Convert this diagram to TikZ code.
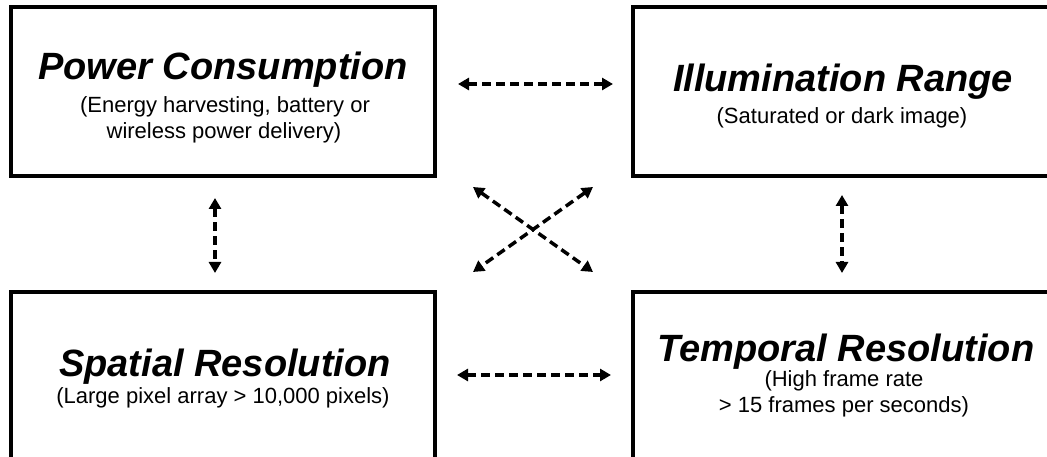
\documentclass[tikz,border=0pt]{standalone}
\usepackage{fontspec}
\setmainfont{Liberation Sans}
\usetikzlibrary{arrows.meta}

\tikzset{
  panel/.style={draw=black, line width=4pt, minimum width=424pt, minimum height=169pt, inner sep=0pt},
  heading/.style={anchor=base, inner sep=0pt, font=\fontsize{38}{44}\selectfont\bfseries\itshape},
  detail/.style={anchor=base, inner sep=0pt, font=\fontsize{22}{26}\selectfont},
  link/.style={line width=3.5pt, dash pattern=on 9pt off 5pt,
    {Triangle[length=11pt,width=12pt]}-{Triangle[length=11pt,width=12pt]}}
}

\begin{document}
\begin{tikzpicture}[x=1pt, y=1pt]
  \clip (0,0) rectangle (1047,457);
  \fill[white] (0,0) rectangle (1047,457);

  % the four design constraints
  \node[panel] (pc) at (223,365.5) {};
  \node[panel] (ir) at (845,365.5) {};
  \node[panel] (sr) at (223,80.5) {};
  \node[panel] (tr) at (845,80.5) {};

  % Power Consumption
  \node[heading] (pcT) at (223,377) {Power Consumption};
  \node[detail] (pcA) at (225,344) {(Energy harvesting, battery or};
  \node[detail] (pcB) at (224,318) {wireless power delivery)};

  % Illumination Range
  \node[heading] (irT) at (843,365) {Illumination Range};
  \node[detail] (irA) at (842,333) {(Saturated or dark image)};

  % Spatial Resolution
  \node[heading] (srT) at (225,80) {Spatial Resolution};
  \node[detail] (srA) at (223,53) {(Large pixel array > 10,000 pixels)};

  % Temporal Resolution
  \node[heading] (trT) at (846,95) {Temporal Resolution};
  \node[detail] (trA) at (844,70) {(High frame rate};
  \node[detail] (trB) at (844,44) {> 15 frames per seconds)};

  % trade-offs between the constraints
  \draw[link, shorten <=21pt, shorten >=18pt] ([yshift=7.5pt]pc.east) -- ([yshift=7.5pt]ir.west);
  \draw[link, shorten <=20pt, shorten >=20pt] ([yshift=1.5pt]sr.east) -- ([yshift=1.5pt]tr.west);
  \draw[link, shorten <=20pt, shorten >=17pt] ([xshift=-8pt]pc.south) -- ([xshift=-8pt]sr.north);
  \draw[link, shorten <=17pt, shorten >=17pt] ([xshift=-3pt]ir.south) -- ([xshift=-3pt]tr.north);
  \draw[link] ([xshift=36pt,yshift=-9pt]pc.south east) -- ([xshift=-38pt,yshift=18pt]tr.north west);
  \draw[link] ([xshift=-38pt,yshift=-9pt]ir.south west) -- ([xshift=36pt,yshift=18pt]sr.north east);
\end{tikzpicture}
\end{document}
